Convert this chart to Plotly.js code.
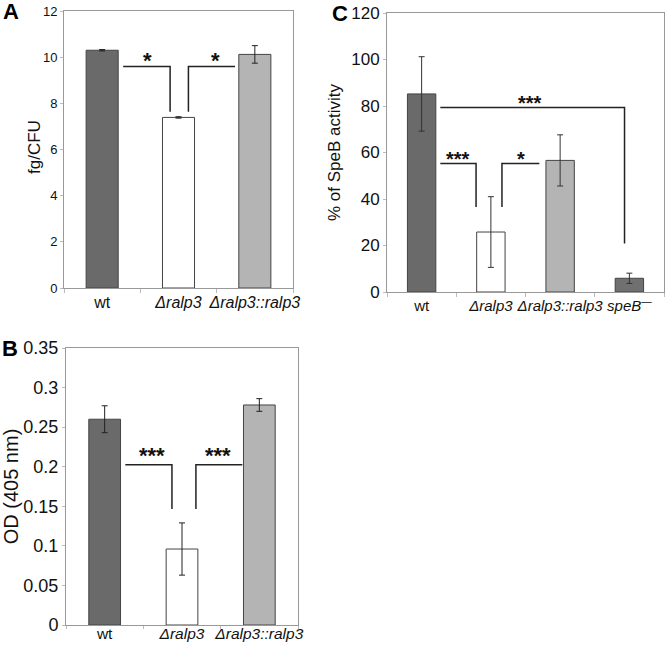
<!DOCTYPE html>
<html>
<head>
<meta charset="utf-8">
<script src="https://cdn.plot.ly/plotly-3.0.1.min.js"></script>
<style>html,body{margin:0;padding:0;background:#fff;}#chart{width:666px;height:645px;}</style>
</head>
<body>
<div id="chart"></div>
<script>
// ---- data ----
var catsA = ['wt', 'Δralp3', 'Δralp3::ralp3'];
var tickA = ['wt', '<i>Δralp3</i>', '<i>Δralp3::ralp3</i>'];
var valsA = [10.3, 7.39, 10.12];
var errA = [0.03, 0.03, 0.38];

var catsB = ['wt', 'Δralp3', 'Δralp3::ralp3'];
var tickB = ['wt', '<i>Δralp3</i>', '<i>Δralp3::ralp3</i>'];
var valsB = [0.26, 0.096, 0.278];
var errB = [0.017, 0.033, 0.008];

var catsC = ['wt', 'Δralp3', 'Δralp3::ralp3', 'speB-'];
var tickC = ['wt', '<i>Δralp3</i>', '<i>Δralp3::ralp3</i>', '<i>speB</i><sup>—</sup>'];
var valsC = [85.2, 25.8, 56.6, 5.9];
var errC = [16, 15.2, 11, 2.2];

// significance brackets: [xStart, xCorner, yTop, yBottom], label, label x
var sigA = [[0.275, 0.89, 9.6, 7.64, '*', 0.59], [1.74, 1.13, 9.6, 7.64, '*', 1.48]];
var sigB = [[0.267, 0.87, 0.2025, 0.1465, '***', 0.61], [1.78, 1.18, 0.2025, 0.1465, '***', 1.47]];
var sigC = [[0.27, 2.93, 79.4, 20.9, '***', 1.57], [0.27, 0.786, 55.3, 36.6, '***', 0.525], [1.70, 1.16, 55.3, 36.6, '*', 1.43]];

var colorsA = ['#6a6a6a', '#ffffff', '#b4b4b4'];
var colorsC = ['#6a6a6a', '#ffffff', '#b4b4b4', '#707070'];

var FONT = 'Liberation Sans, Arial, sans-serif';

function barTrace(cats, vals, errs, colors, xa, ya, w, errColor) {
  return {
    type: 'bar', x: cats, y: vals, xaxis: xa, yaxis: ya, width: w,
    marker: {color: colors, line: {color: '#444', width: 1}},
    error_y: {type: 'data', array: errs, visible: true, color: errColor || '#222', thickness: 1, width: 3},
    showlegend: false, hoverinfo: 'x+y'
  };
}

var traces = [
  barTrace(catsA, valsA, errA, colorsA, 'x', 'y', 0.42),
  barTrace(catsB, valsB, errB, colorsA, 'x2', 'y2', 0.41),
  barTrace(catsC, valsC, errC, colorsC, 'x3', 'y3', 0.41, '#333')
];

var shapes = [];
var annotations = [];
function addSig(list, xr, yr, fs, ysh) {
  list.forEach(function (s) {
    shapes.push({type: 'path', xref: xr, yref: yr,
      path: 'M ' + s[0] + ',' + s[2] + ' L ' + s[1] + ',' + s[2] + ' L ' + s[1] + ',' + s[3],
      line: {color: '#222', width: 1.5}});
    annotations.push({xref: xr, yref: yr, x: s[5], y: s[2], text: '<b>' + s[4] + '</b>', showarrow: false,
      yanchor: 'bottom', yshift: ysh, font: {family: FONT, size: fs, color: '#111'}});
  });
}
addSig(sigA, 'x', 'y', 22, -9);
addSig(sigB, 'x2', 'y2', 22, -5);
addSig(sigC, 'x3', 'y3', 20, -9);

// panel letters
[['A', 11, 12], ['B', 10, 348], ['C', 340, 13]].forEach(function (p) {
  annotations.push({xref: 'paper', yref: 'paper', x: p[1] / 666, y: 1 - p[2] / 645,
    xanchor: 'center', yanchor: 'middle', text: '<b>' + p[0] + '</b>', showarrow: false,
    font: {family: FONT, size: 22, color: '#000'}});
});
// y title of panel A
annotations.push({xref: 'paper', yref: 'paper', x: 34 / 666, y: 1 - 147 / 645, xanchor: 'center', yanchor: 'middle',
  text: 'fg/CFU', textangle: -90, showarrow: false, font: {family: FONT, size: 17, color: '#111'}});

function xAxis(dom, anchor, ticks, cats, fs, tl, sto) {
  return {domain: dom, anchor: anchor, type: 'category', tickmode: 'array', tickvals: cats, ticktext: ticks,
    tickangle: 0, ticklabelstandoff: sto,
    showline: true, linecolor: '#999', linewidth: 1, mirror: true, showgrid: false, zeroline: false,
    ticks: 'outside', tickson: 'boundaries', ticklen: tl, tickcolor: '#bbb',
    tickfont: {family: FONT, size: fs, color: '#111'}, fixedrange: true};
}
function yAxis(dom, anchor, range, dtick, title, fs, tfs, standoff) {
  var ax = {domain: dom, anchor: anchor, range: range, dtick: dtick,
    showline: true, linecolor: '#999', linewidth: 1, mirror: true, showgrid: false, zeroline: false,
    ticks: 'outside', ticklen: 3, tickcolor: '#bbb',
    tickfont: {family: FONT, size: fs, color: '#111'}, fixedrange: true};
  if (title) ax.title = {text: title, font: {family: FONT, size: tfs, color: '#111'}, standoff: standoff};
  return ax;
}

var layout = {
  width: 666, height: 645,
  margin: {l: 0, r: 0, t: 0, b: 0},
  paper_bgcolor: '#fff', plot_bgcolor: '#fff',
  xaxis: xAxis([64 / 666, 293 / 666], 'y', tickA, catsA, 16, 4, 0),
  yaxis: yAxis([1 - 288 / 645, 1 - 11 / 645], 'x', [0, 12], 2, null, 13, 17, 0),
  xaxis2: xAxis([66 / 666, 298 / 666], 'y2', tickB, catsB, 15.5, 3, -6),
  yaxis2: yAxis([1 - 625 / 645, 1 - 348 / 645], 'x2', [0, 0.35], 0.05, 'OD (405 nm)', 18, 20, 6),
  xaxis3: xAxis([387 / 666, 664 / 666], 'y3', tickC, catsC, 15, 4, 0),
  yaxis3: yAxis([1 - 292 / 645, 1 - 13 / 645], 'x3', [0, 120], 20, '% of SpeB activity', 17, 17, 6),
  shapes: shapes,
  annotations: annotations,
  font: {family: FONT}
};

Plotly.newPlot('chart', traces, layout, {displayModeBar: false, staticPlot: true});
</script>
</body>
</html>
